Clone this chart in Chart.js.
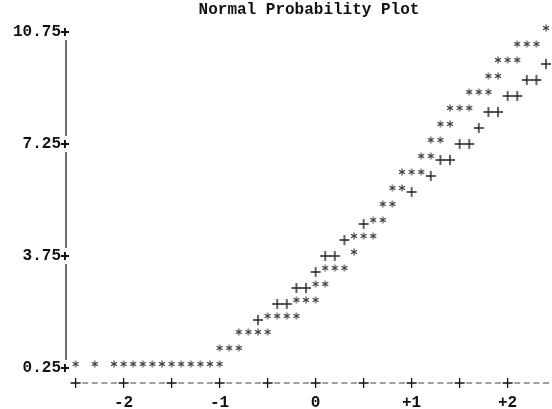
<!DOCTYPE html>
<html lang="en">
<head>
<meta charset="UTF-8">
<title>Normal Probability Plot</title>
<script src="https://cdn.jsdelivr.net/npm/chart.js"></script>
<style>
  html, body { margin: 0; padding: 0; background: #fff; }
  #wrap { width: 552px; height: 409px; }
</style>
</head>
<body>
<div id="wrap"><canvas id="plot"></canvas></div>
<script>
// tick labels
const yTicks = [0.25, 3.75, 7.25, 10.75];
const xTicks = [-2, -1, 0, 1, 2];

// observed values ("*"), read row by row from the bottom
const starX = [
  -2.5, -2.3, -2.1, -2.0, -1.9, -1.8, -1.7, -1.6, -1.5, -1.4, -1.3, -1.2, -1.1, -1.0,
  -1.0, -0.9, -0.8,
  -0.8, -0.7, -0.6, -0.5,
  -0.5, -0.4, -0.3, -0.2,
  -0.2, -0.1, 0.0,
  0.0, 0.1,
  0.1, 0.2, 0.3,
  0.4,
  0.4, 0.5, 0.6,
  0.6, 0.7,
  0.7, 0.8,
  0.8, 0.9,
  0.9, 1.0, 1.1,
  1.1, 1.2,
  1.2, 1.3,
  1.3, 1.4,
  1.4, 1.5, 1.6,
  1.6, 1.7, 1.8,
  1.8, 1.9,
  1.9, 2.0, 2.1,
  2.1, 2.2, 2.3,
  2.4
];
const starY = [
  0.25, 0.25, 0.25, 0.25, 0.25, 0.25, 0.25, 0.25, 0.25, 0.25, 0.25, 0.25, 0.25, 0.25,
  0.75, 0.75, 0.75,
  1.25, 1.25, 1.25, 1.25,
  1.75, 1.75, 1.75, 1.75,
  2.25, 2.25, 2.25,
  2.75, 2.75,
  3.25, 3.25, 3.25,
  3.75,
  4.25, 4.25, 4.25,
  4.75, 4.75,
  5.25, 5.25,
  5.75, 5.75,
  6.25, 6.25, 6.25,
  6.75, 6.75,
  7.25, 7.25,
  7.75, 7.75,
  8.25, 8.25, 8.25,
  8.75, 8.75, 8.75,
  9.25, 9.25,
  9.75, 9.75, 9.75,
  10.25, 10.25, 10.25,
  10.75
];

// reference line of the normal distribution ("+")
const plusX = [-0.6, -0.4, -0.3, -0.2, -0.1, 0.0, 0.1, 0.2, 0.3, 0.5, 1.0, 1.2, 1.3, 1.4, 1.5, 1.6, 1.7, 1.8, 1.9, 2.0, 2.1, 2.2, 2.3, 2.4];
const plusY = [1.75, 2.25, 2.25, 2.75, 2.75, 3.25, 3.75, 3.75, 4.25, 4.75, 5.75, 6.25, 6.75, 6.75, 7.25, 7.25, 7.75, 8.25, 8.25, 8.75, 8.75, 9.25, 9.25, 9.75];

const FONT = "'Liberation Mono', 'DejaVu Sans Mono', monospace";
const INK = '#111';

// little canvases used as point styles, drawn like the printer characters
function starImage() {
  const c = document.createElement('canvas');
  c.width = 10; c.height = 20;
  const g = c.getContext('2d');
  g.strokeStyle = '#3a3a3a';
  g.lineWidth = 1.1;
  g.translate(5, 6); // sits above the row centre like a printed "*"
  for (const a of [90, 30, 150]) {
    const r = a * Math.PI / 180;
    g.beginPath();
    g.moveTo(-3.4 * Math.cos(r), -3.4 * Math.sin(r));
    g.lineTo(3.4 * Math.cos(r), 3.4 * Math.sin(r));
    g.stroke();
  }
  return c;
}

function plusImage() {
  const c = document.createElement('canvas');
  c.width = 12; c.height = 12;
  const g = c.getContext('2d');
  g.strokeStyle = '#222';
  g.lineWidth = 1.4;
  g.beginPath();
  g.moveTo(1, 6); g.lineTo(11, 6);
  g.moveTo(6, 1); g.lineTo(6, 11);
  g.stroke();
  return c;
}

function plus(ctx, x, y, h, lw) {
  ctx.lineWidth = lw;
  ctx.beginPath();
  ctx.moveTo(x - h, y); ctx.lineTo(x + h, y);
  ctx.moveTo(x, y - h); ctx.lineTo(x, y + h);
  ctx.stroke();
}

// axes made of "|", "+" and "-" like the line printer output
const textAxes = {
  id: 'textAxes',
  afterDraw(chart) {
    const { ctx, chartArea, scales: { x, y } } = chart;
    const ax = x.getPixelForValue(-2.6);
    ctx.save();
    ctx.strokeStyle = INK;

    for (let i = 0; i < yTicks.length - 1; i++) {
      const lo = y.getPixelForValue(yTicks[i]) - 8;
      const hi = y.getPixelForValue(yTicks[i + 1]) + 8;
      ctx.lineWidth = 1.2;
      ctx.beginPath();
      ctx.moveTo(ax, lo); ctx.lineTo(ax, hi);
      ctx.stroke();
    }
    yTicks.forEach(v => plus(ctx, ax - 1, y.getPixelForValue(v), 4, 2));

    const by = chartArea.bottom - 1;
    for (let col = 0; col < 50; col++) {
      const px = x.getPixelForValue(-2.5 + col / 10);
      if (col % 5 === 0) {
        ctx.strokeStyle = INK;
        plus(ctx, px, by, 5, 1.3);
      } else {
        ctx.strokeStyle = '#444';
        ctx.lineWidth = 1;
        ctx.beginPath();
        ctx.moveTo(px - 3, by); ctx.lineTo(px + 3, by);
        ctx.stroke();
      }
    }
    ctx.restore();
  }
};

const starPts = starX.map((v, i) => ({ x: v, y: starY[i] }));
const plusPts = plusX.map((v, i) => ({ x: v, y: plusY[i] }));

new Chart(document.getElementById('plot'), {
  type: 'scatter',
  data: {
    datasets: [
      { label: 'Data', data: starPts, pointStyle: starImage(), pointRadius: 4 },
      { label: 'Normal', data: plusPts, pointStyle: plusImage(), pointRadius: 4 }
    ]
  },
  options: {
    responsive: true,
    maintainAspectRatio: false,
    animation: false,
    layout: { autoPadding: false, padding: { left: 10, top: 2, right: 0, bottom: 0 } },
    plugins: {
      legend: { display: false },
      tooltip: { enabled: false },
      title: {
        display: true,
        text: 'Normal Probability Plot',
        fullSize: false,
        color: INK,
        padding: 0,
        font: { family: FONT, size: 16, weight: 'bold', lineHeight: 1 }
      }
    },
    scales: {
      x: {
        type: 'linear',
        min: -2.6,
        max: 2.4625,
        grid: { display: false, drawTicks: false, tickLength: 0 },
        border: { display: false },
        afterBuildTicks: s => { s.ticks = xTicks.map(v => ({ value: v })); },
        afterFit: s => { s.height = 25; },
        ticks: {
          padding: 9,
          color: INK,
          font: { family: FONT, size: 16, weight: 'bold' },
          callback: v => (v > 0 ? '+' + v : String(v))
        }
      },
      y: {
        type: 'linear',
        min: -0.25,
        max: 11.1875,
        grid: { display: false, drawTicks: false, tickLength: 0 },
        border: { display: false },
        afterBuildTicks: s => { s.ticks = yTicks.map(v => ({ value: v })); },
        afterFit: s => { s.width = 56; },
        ticks: {
          padding: 5,
          color: INK,
          font: { family: FONT, size: 16, weight: 'bold' },
          callback: v => v.toFixed(2)
        }
      }
    }
  },
  plugins: [textAxes]
});
</script>
</body>
</html>
